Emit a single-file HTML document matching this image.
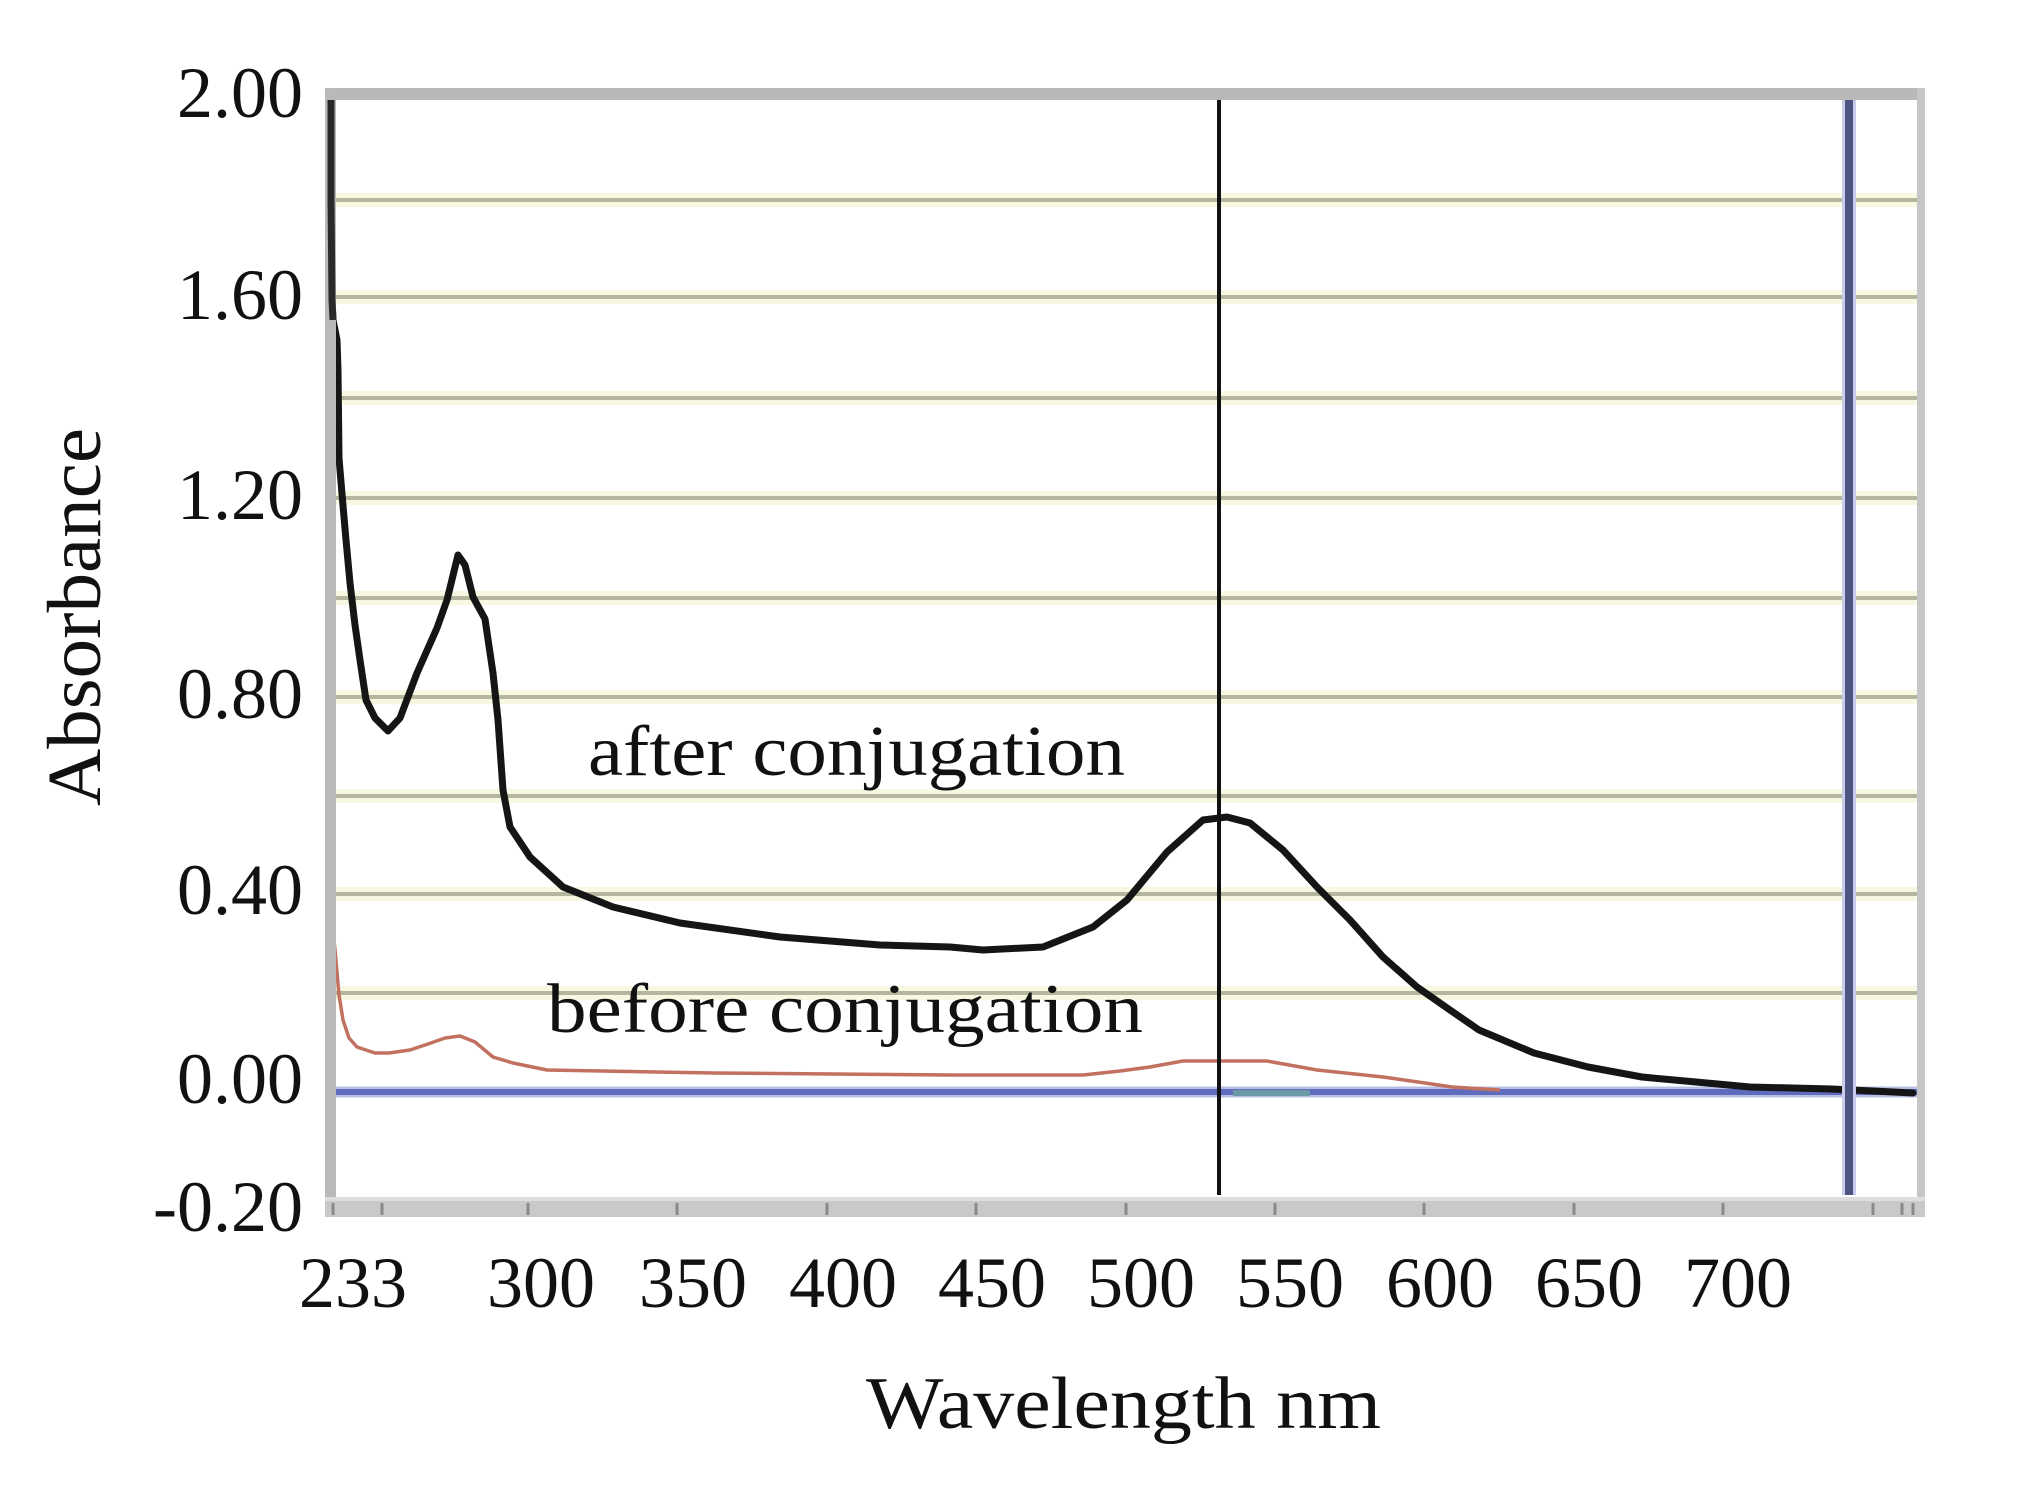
<!DOCTYPE html>
<html>
<head>
<meta charset="utf-8">
<style>
  html, body { margin: 0; padding: 0; background: #ffffff; }
  svg { display: block; }
  text { font-family: "Liberation Serif", "DejaVu Serif", serif; fill: #111; }
</style>
</head>
<body>
<svg width="2030" height="1497" viewBox="0 0 2030 1497" xmlns="http://www.w3.org/2000/svg">
  <rect x="0" y="0" width="2030" height="1497" fill="#ffffff"/>

  <!-- gridline halos -->
  <g stroke="#f7f7e2" stroke-width="14">
    <line x1="336" y1="200" x2="1917" y2="200"/>
    <line x1="336" y1="297" x2="1917" y2="297"/>
    <line x1="336" y1="398" x2="1917" y2="398"/>
    <line x1="336" y1="498" x2="1917" y2="498"/>
    <line x1="336" y1="598" x2="1917" y2="598"/>
    <line x1="336" y1="697" x2="1917" y2="697"/>
    <line x1="336" y1="796" x2="1917" y2="796"/>
    <line x1="336" y1="894" x2="1917" y2="894"/>
    <line x1="336" y1="993" x2="1917" y2="993"/>
  </g>
  <!-- gridlines -->
  <g stroke="#b4b69d" stroke-width="4">
    <line x1="336" y1="200" x2="1917" y2="200"/>
    <line x1="336" y1="297" x2="1917" y2="297"/>
    <line x1="336" y1="398" x2="1917" y2="398"/>
    <line x1="336" y1="498" x2="1917" y2="498"/>
    <line x1="336" y1="598" x2="1917" y2="598"/>
    <line x1="336" y1="697" x2="1917" y2="697"/>
    <line x1="336" y1="796" x2="1917" y2="796"/>
    <line x1="336" y1="894" x2="1917" y2="894"/>
    <line x1="336" y1="993" x2="1917" y2="993"/>
  </g>

  <!-- zero baseline (blue) -->
  <line x1="330" y1="1092" x2="1917" y2="1092" stroke="#b8bfe6" stroke-width="11"/>
  <line x1="330" y1="1092" x2="1917" y2="1092" stroke="#5f6cbe" stroke-width="6"/>
  <line x1="1233" y1="1093" x2="1310" y2="1093" stroke="#6a9aa8" stroke-width="6"/>

  <!-- before conjugation (red) -->
  <polyline fill="none" stroke="#c27060" stroke-width="3.5" stroke-linejoin="round"
    points="332,922 335,950 339,995 343,1020 349,1038 357,1047 375,1053 389,1053 410,1050 428,1044 445,1038 460,1036 475,1042 493,1057 513,1063 547,1070 713,1073 950,1075 1083,1075 1120,1071 1150,1067 1183,1061 1267,1061 1317,1070 1383,1077 1425,1083 1452,1087 1500,1090"/>

  <!-- after conjugation (black) -->
  <polyline fill="none" stroke="#151515" stroke-width="7" stroke-linejoin="round" stroke-linecap="round"
    points="331,96 331,200 332,300 333,320 337,340 338,370 339,458 342,494 346,540 350,583 355,625 360,660 366,700 375,718 388,731 400,718 417,673 437,628 447,600 458,555 465,565 473,597 485,619 493,673 498,720 503,790 510,827 530,857 563,887 613,907 680,923 780,937 880,945 950,947 983,950 1043,947 1093,927 1127,900 1167,852 1203,820 1227,817 1250,823 1283,850 1317,887 1350,920 1383,957 1417,987 1450,1010 1479,1030 1534,1053 1588,1067 1642,1077 1696,1082 1750,1087 1832,1089 1913,1093"/>

  <!-- vertical markers -->
  <line x1="1219" y1="100" x2="1219" y2="1195" stroke="#111111" stroke-width="4"/>
  <line x1="1849" y1="100" x2="1849" y2="1195" stroke="#c9cdeb" stroke-width="14"/>
  <line x1="1849" y1="100" x2="1849" y2="1195" stroke="#4e5580" stroke-width="8"/>

  <!-- frame -->
  <rect x="325" y="88" width="1600" height="12" fill="#b8b8b8"/>
  <rect x="1917" y="88" width="8" height="1129" fill="#c6c6c6"/>
  <rect x="325" y="88" width="11" height="1129" fill="#b9b9b9"/>
  <rect x="325" y="1197" width="1600" height="20" fill="#c9c9c9"/>
  <rect x="325" y="1197" width="1600" height="4" fill="#dedede"/>
  <!-- re-draw top of black curve over the left axis -->
  <polyline fill="none" stroke="#2a2a2a" stroke-width="7" points="331,100 331,200 332,300 333,320"/>

  <!-- bottom ticks -->
  <g stroke="#8a8a8a" stroke-width="3">
    <line x1="333" y1="1203" x2="333" y2="1215"/>
    <line x1="382" y1="1203" x2="382" y2="1215"/>
    <line x1="528" y1="1203" x2="528" y2="1215"/>
    <line x1="677" y1="1203" x2="677" y2="1215"/>
    <line x1="827" y1="1203" x2="827" y2="1215"/>
    <line x1="976" y1="1203" x2="976" y2="1215"/>
    <line x1="1126" y1="1203" x2="1126" y2="1215"/>
    <line x1="1275" y1="1203" x2="1275" y2="1215"/>
    <line x1="1424" y1="1203" x2="1424" y2="1215"/>
    <line x1="1574" y1="1203" x2="1574" y2="1215"/>
    <line x1="1723" y1="1203" x2="1723" y2="1215"/>
    <line x1="1873" y1="1203" x2="1873" y2="1215"/>
    <line x1="1902" y1="1203" x2="1902" y2="1215"/>
    <line x1="1913" y1="1203" x2="1913" y2="1215"/>
  </g>

  <!-- y tick labels -->
  <g font-size="72" text-anchor="end">
    <text x="303" y="117">2.00</text>
    <text x="303" y="319">1.60</text>
    <text x="303" y="519">1.20</text>
    <text x="303" y="718">0.80</text>
    <text x="303" y="914">0.40</text>
    <text x="303" y="1103">0.00</text>
    <text x="303" y="1231">-0.20</text>
  </g>

  <!-- x tick labels -->
  <g font-size="72" text-anchor="middle">
    <text x="353" y="1307">233</text>
    <text x="541" y="1307">300</text>
    <text x="693" y="1307">350</text>
    <text x="843" y="1307">400</text>
    <text x="992" y="1307">450</text>
    <text x="1141" y="1307">500</text>
    <text x="1290" y="1307">550</text>
    <text x="1440" y="1307">600</text>
    <text x="1589" y="1307">650</text>
    <text x="1738" y="1307">700</text>
  </g>

  <!-- annotations -->
  <text x="588" y="775" font-size="72" textLength="537" lengthAdjust="spacingAndGlyphs">after conjugation</text>
  <text x="547" y="1032" font-size="70" textLength="596" lengthAdjust="spacingAndGlyphs">before conjugation</text>

  <!-- axis titles -->
  <text transform="translate(100,617) rotate(-90)" text-anchor="middle" font-size="76" textLength="378" lengthAdjust="spacingAndGlyphs">Absorbance</text>
  <text x="866" y="1428" font-size="74" textLength="515" lengthAdjust="spacingAndGlyphs">Wavelength nm</text>
</svg>
</body>
</html>
